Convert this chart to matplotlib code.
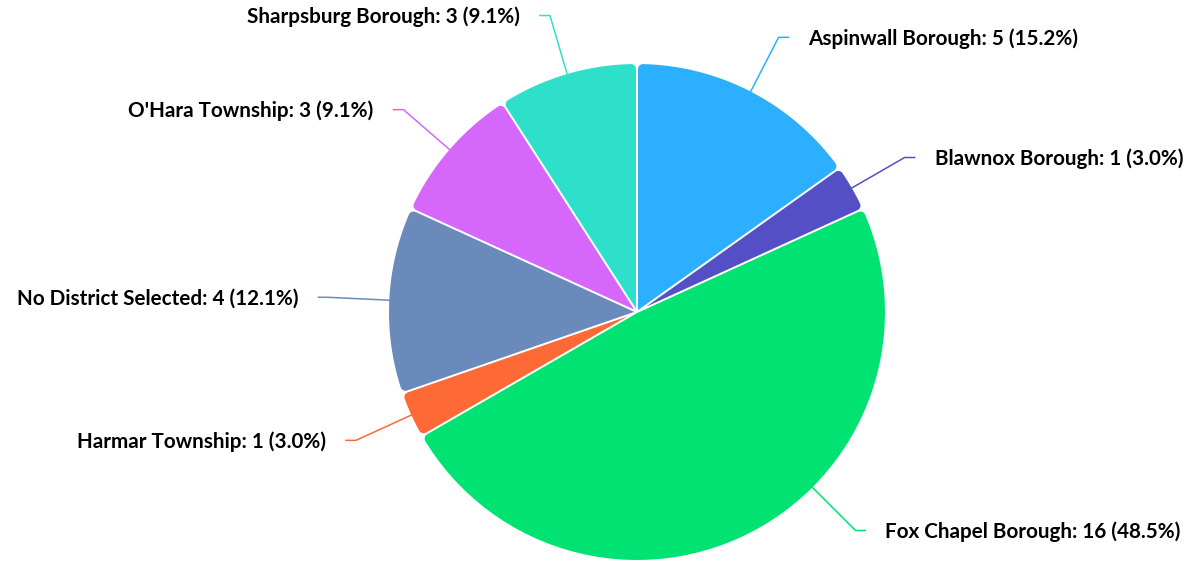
import numpy as np
import matplotlib
matplotlib.use('Agg')
import matplotlib.pyplot as plt
from matplotlib.patches import Polygon

categories = ['Aspinwall Borough', 'Blawnox Borough', 'Fox Chapel Borough',
              'Harmar Township', 'No District Selected', "O'Hara Township",
              'Sharpsburg Borough']
values = [5, 1, 16, 1, 4, 3, 3]
colors = ['#2caffe', '#544fc5', '#00e272', '#fe6a35', '#6b8abc', '#d568fb', '#2ee0ca']

W, H = 1190, 561
fig = plt.figure(figsize=(W / 100, H / 100), dpi=100)
ax = fig.add_axes([0, 0, 1, 1])

cx, cy = 637.0, H - 312.0
R = 248.0
GAP = 2.0
CR = 5.0
label_angle_override = {'Fox Chapel Borough': -45.0}

wedges, _ = ax.pie(values, colors=colors, startangle=90, counterclock=False,
                   center=(cx, cy), radius=R)
ax.set_xlim(0, W)
ax.set_ylim(0, H)
ax.set_aspect('equal')
ax.axis('off')


def rounded_wedge(c, R, t1, t2, gap, cr, n=60):
    a1, a2 = np.radians(t1), np.radians(t2)
    th = a2 - a1
    h = gap / 2
    c = np.asarray(c)
    u1 = np.array([np.cos(a1), np.sin(a1)])
    n1 = np.array([-np.sin(a1), np.cos(a1)])
    u2 = np.array([np.cos(a2), np.sin(a2)])
    n2 = np.array([np.sin(a2), -np.cos(a2)])
    mid = (a1 + a2) / 2
    apex = c + (h / np.sin(th / 2)) * np.array([np.cos(mid), np.sin(mid)])
    a = np.sqrt((R - cr) ** 2 - (h + cr) ** 2)
    F1 = a * u1 + (h + cr) * n1
    F2 = a * u2 + (h + cr) * n2
    f1a0 = np.arctan2(-n1[1], -n1[0])
    f1a1 = np.arctan2(F1[1], F1[0])
    while f1a1 < f1a0:
        f1a1 += 2 * np.pi
    f2a0 = np.arctan2(F2[1], F2[0])
    f2a1 = np.arctan2(-n2[1], -n2[0])
    while f2a1 < f2a0:
        f2a1 += 2 * np.pi
    ma0 = np.arctan2(F1[1], F1[0])
    ma1 = np.arctan2(F2[1], F2[0])
    while ma1 < ma0:
        ma1 += 2 * np.pi
    pts = [apex]
    for t in np.linspace(f1a0, f1a1, 12):
        pts.append(c + F1 + cr * np.array([np.cos(t), np.sin(t)]))
    for t in np.linspace(ma0, ma1, n):
        pts.append(c + R * np.array([np.cos(t), np.sin(t)]))
    for t in np.linspace(f2a0, f2a1, 12):
        pts.append(c + F2 + cr * np.array([np.cos(t), np.sin(t)]))
    return np.array(pts)


total = sum(values)
for w, cat, v, col in zip(wedges, categories, values, colors):
    t1, t2 = w.theta1, w.theta2
    w.set_visible(False)
    pts = rounded_wedge((cx, cy), R, t1, t2, GAP, CR)
    ax.add_patch(Polygon(pts, closed=True, facecolor=col, edgecolor='none'))

    m = label_angle_override.get(cat, (t1 + t2) / 2)
    mr = np.radians(m)
    d = np.array([np.cos(mr), np.sin(mr)])
    p0 = np.array([cx, cy]) + R * d
    p1 = np.array([cx, cy]) + (R + 61) * d
    side = 1 if d[0] >= 0 else -1
    p2 = p1 + np.array([side * 10, 0])
    ax.plot([p0[0], p1[0], p2[0]], [p0[1], p1[1], p2[1]], color=col, lw=1.1,
            solid_joinstyle='round')
    txt = f"{cat}: {v} ({v / total * 100:.1f}%)"
    ax.text(p2[0] + side * 20, p2[1] - 1, txt, ha='left' if side > 0 else 'right',
            va='center', fontsize=14.9, fontweight='bold', color='#000000',
            family=['Lato', 'DejaVu Sans'])

fig.savefig('out.png', dpi=100)
